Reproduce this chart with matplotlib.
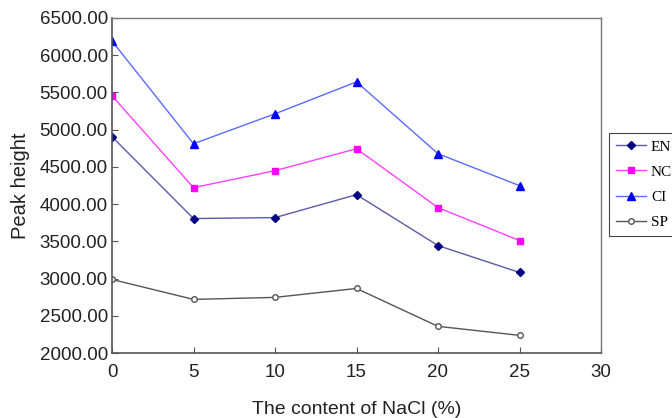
import numpy as np
import matplotlib.pyplot as plt

nacl = [0, 5, 10, 15, 20, 25]
en = [4905, 3806, 3819, 4127, 3443, 3082]
nc = [5455, 4221, 4449, 4744, 3953, 3511]
ci = [6190, 4811, 5213, 5642, 4677, 4248]
sp = [2988, 2720, 2747, 2867, 2358, 2237]

plt.rcParams['font.family'] = ['Liberation Sans', 'DejaVu Sans']

fig = plt.figure(figsize=(6.72, 4.18), dpi=100)
ax = fig.add_axes([112/672, 1 - 353/418, (601 - 112)/672, (353 - 18)/418])

ax.plot(nacl, en, marker='D', markersize=4, color='#5a5aa8', mfc='#000080', mec='#000080', lw=1, label='EN')
ax.plot(nacl, nc, marker='s', markersize=5, color='#ff40ff', mfc='#ff00ff', mec='#ff00ff', lw=1, label='NC')
ax.plot(nacl, ci, marker='^', markersize=6, color='#5a6cff', mfc='#0000ff', mec='#0000ff', lw=1, label='CI')
ax.plot(nacl, sp, marker='o', markersize=4, color='#555555', mfc='white', mec='#555555', lw=1, label='SP')

ax.set_xlim(0, 30)
ax.set_ylim(2000, 6500)
ax.set_xticks(np.arange(0, 31, 5))
ax.set_yticks(np.arange(2000, 6501, 500))
ax.set_yticklabels([f"{v:.2f}" for v in np.arange(2000, 6501, 500)])
ax.tick_params(direction='in', labelsize=13.5, colors='#555555', labelcolor='#222222', length=4)
ax.tick_params(axis='x', pad=8)
ax.tick_params(axis='y', pad=3)

for s in ['left', 'bottom']:
    ax.spines[s].set_color('#555555')
    ax.spines[s].set_linewidth(1.2)
for s in ['top', 'right']:
    ax.spines[s].set_color('#777777')
    ax.spines[s].set_linewidth(1.0)

ax.set_xlabel("The content of NaCl (%)", fontsize=14, labelpad=14, color='#222222')
ax.set_ylabel("Peak height", fontsize=14.5, labelpad=7, color='#222222')

leg = ax.legend(loc='upper left', bbox_to_anchor=(609/672, 1 - 133/418), bbox_transform=fig.transFigure,
                frameon=True, fancybox=False, framealpha=1, edgecolor='#444444',
                prop={'family': 'Liberation Serif', 'size': 11}, handlelength=2.0,
                handletextpad=0.3, labelspacing=0.75, borderpad=0.45, borderaxespad=0)
leg.get_frame().set_linewidth(0.8)

fig.savefig("out.png", dpi=100)
